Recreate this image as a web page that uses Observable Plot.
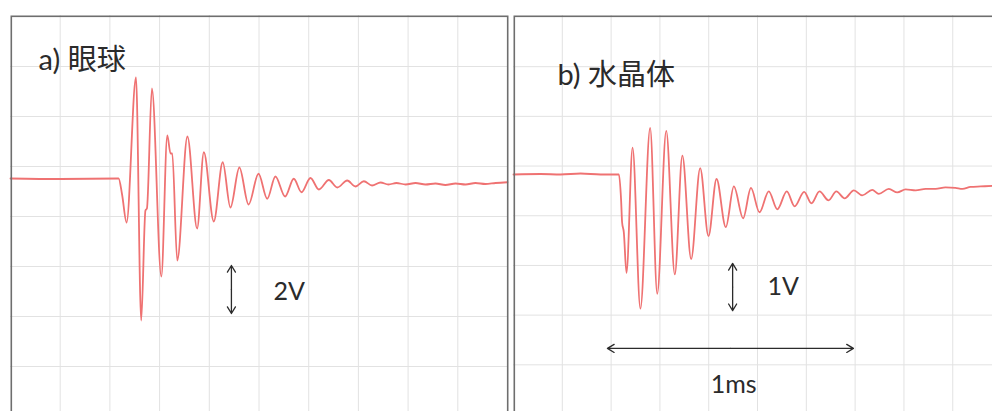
<!DOCTYPE html>
<html>
<head>
<meta charset="utf-8">
<script src="https://cdn.jsdelivr.net/npm/d3@7"></script>
<script src="https://cdn.jsdelivr.net/npm/@observablehq/plot@0.6"></script>
<style>
  html, body { margin: 0; padding: 0; background: #fff; overflow: hidden; width: 992px; height: 411px; }
  #panelA { position: absolute; left: 10px; top: 15px; width: 500px; }
  #panelB { position: absolute; left: 513px; top: 15px; width: 500px; }
</style>
</head>
<body>
<div id="panelA"></div>
<div id="panelB"></div>
<script>
// ---- Panel a) 眼球 : time (ms) and voltage (V, relative to baseline) ----
const titleA = "a) 眼球";
const timeA = [0, 0.201, 0.435, 0.449, 0.467, 0.505, 0.526, 0.543, 0.549, 0.569,
  0.607, 0.631, 0.644, 0.651, 0.671, 0.712, 0.751, 0.778, 0.818, 0.854,
  0.885, 0.921, 0.958, 0.998, 1.033, 1.066, 1.105, 1.140, 1.171, 1.207,
  1.241, 1.281, 1.315, 1.355, 1.388, 1.422, 1.455, 1.489, 1.521, 1.553,
  1.590, 1.630, 1.670, 1.710, 1.750, 1.791, 1.831, 1.871, 1.911, 1.952, 2.0];
const voltA = [0, -0.02, 0, -0.64, -1.76, 4.04, -5.68, -1.28, -1.2, 3.6,
  -3.92, 1.72, 1.0, 1.0, -3.28, 1.68, -2.0, 1.05, -1.72, 0.65,
  -1.16, 0.44, -1.04, 0.19, -0.81, 0.08, -0.72, -0.01, -0.55, 0.02,
  -0.44, -0.06, -0.36, -0.08, -0.32, -0.11, -0.28, -0.16, -0.24, -0.18,
  -0.24, -0.18, -0.24, -0.2, -0.26, -0.2, -0.24, -0.18, -0.22, -0.18, -0.15];

// ---- Panel b) 水晶体 ----
const titleB = "b) 水晶体";
const timeB = [0, 0.111, 0.193, 0.275, 0.357, 0.432, 0.441, 0.445, 0.452, 0.463,
  0.488, 0.520, 0.560, 0.589, 0.626, 0.661, 0.692, 0.728, 0.765, 0.799,
  0.832, 0.870, 0.903, 0.941, 0.973, 1.008, 1.046, 1.081, 1.120, 1.152,
  1.191, 1.221, 1.254, 1.291, 1.323, 1.357, 1.395, 1.429, 1.470, 1.497,
  1.538, 1.573, 1.607, 1.648, 1.689, 1.730, 1.770, 1.811, 1.840, 1.873,
  1.914, 1.963, 2.008];
const voltB = [-0.01, 0, -0.01, 0.01, -0.01, -0.01, -0.53, -0.97, -1.17, -1.99,
  0.53, -2.71, 0.93, -2.41, 0.87, -2.02, 0.37, -1.71, 0.12, -1.25,
  -0.10, -1.07, -0.25, -0.89, -0.28, -0.77, -0.35, -0.71, -0.35, -0.65,
  -0.36, -0.59, -0.35, -0.53, -0.35, -0.49, -0.33, -0.43, -0.32, -0.40,
  -0.30, -0.37, -0.31, -0.33, -0.30, -0.30, -0.27, -0.28, -0.30, -0.26,
  -0.25, -0.24, -0.23];

// ---- Scale bars and labels (annotations) ----
const barsA = [{x1: 0.889, y1: -3.48, x2: 0.889, y2: -5.40}];
const titlePosA = [{x: 0.113, y: 4.70, text: titleA}];
const labelsA = [{x: 1.058, y: -4.52, text: "2V", anchor: "start"}];
const barsB = [
  {x1: 0.898, y1: -1.80, x2: 0.898, y2: -2.75},
  {x1: 0.385, y1: -3.51, x2: 1.393, y2: -3.51}
];
const titlePosB = [{x: 0.180, y: 1.98, text: titleB}];
const labelsB = [
  {x: 1.041, y: -2.28, text: "1V", anchor: "start"},
  {x: 0.902, y: -4.24, text: "1ms", anchor: "middle"}
];

// grid: 0.2 ms per horizontal division; 2 V (a) / 1 V (b) per vertical division
const divMs = 0.2;
const gridXA = d3.range(divMs, 2.0, divMs);
const gridYA = d3.range(-7.52, 5, 2);
const gridXB = d3.range(divMs, 2.0, divMs);
const gridYB = d3.range(-3.84, 2.5, 1);

const traceColor = "#ef7272";
const gridColor = "#e2e2e2";
const inkColor = "#2b2b2b";
const fontFamily = "Lato, 'Noto Sans CJK JP', sans-serif";

function halves(bars) {
  return bars.flatMap(b => {
    const mx = (b.x1 + b.x2) / 2, my = (b.y1 + b.y2) / 2;
    return [{x1: mx, y1: my, x2: b.x1, y2: b.y1}, {x1: mx, y1: my, x2: b.x2, y2: b.y2}];
  });
}

function panel({width, height, xDomain, yDomain, gx, gy, time, volt, bars, titles, labels}) {
  const pts = time.map((t, i) => ({t, v: volt[i]}));
  return Plot.plot({
    width, height,
    margin: 0,
    style: {maxWidth: "none", overflow: "visible", background: "transparent", fontFamily},
    x: {domain: xDomain, axis: null},
    y: {domain: yDomain, axis: null},
    marks: [
      Plot.ruleX(gx, {stroke: gridColor, strokeWidth: 1}),
      Plot.ruleY(gy, {stroke: gridColor, strokeWidth: 1}),
      Plot.line(pts, {x: "t", y: "v", stroke: traceColor, strokeWidth: 1.8, curve: "monotone-x"}),
      Plot.arrow(halves(bars), {x1: "x1", y1: "y1", x2: "x2", y2: "y2",
        stroke: inkColor, strokeWidth: 1.3, headLength: 9, headAngle: 62}),
      Plot.text(titles, {x: "x", y: "y", text: "text", textAnchor: "start",
        fill: inkColor, fontSize: 29, lineAnchor: "middle", fontFamily}),
      Plot.text(labels.filter(d => d.anchor === "start"), {x: "x", y: "y", text: "text", textAnchor: "start",
        fill: inkColor, fontSize: 25, lineAnchor: "middle", fontFamily}),
      Plot.text(labels.filter(d => d.anchor === "middle"), {x: "x", y: "y", text: "text", textAnchor: "middle",
        fill: inkColor, fontSize: 25, lineAnchor: "middle", fontFamily}),
      Plot.frame({stroke: "#6e6e6e", strokeWidth: 1.6, inset: 0.8})
    ]
  });
}

document.getElementById("panelA").append(panel({
  width: 498, height: 400,
  xDomain: [0, 2.004], yDomain: [-9.48, 6.52],
  gx: gridXA, gy: gridYA, time: timeA, volt: voltA, bars: barsA, titles: titlePosA, labels: labelsA
}));
document.getElementById("panelB").append(panel({
  width: 490, height: 400,
  xDomain: [0, 2.008], yDomain: [-4.86, 3.19],
  gx: gridXB, gy: gridYB, time: timeB, volt: voltB, bars: barsB, titles: titlePosB, labels: labelsB
}));
</script>
</body>
</html>
